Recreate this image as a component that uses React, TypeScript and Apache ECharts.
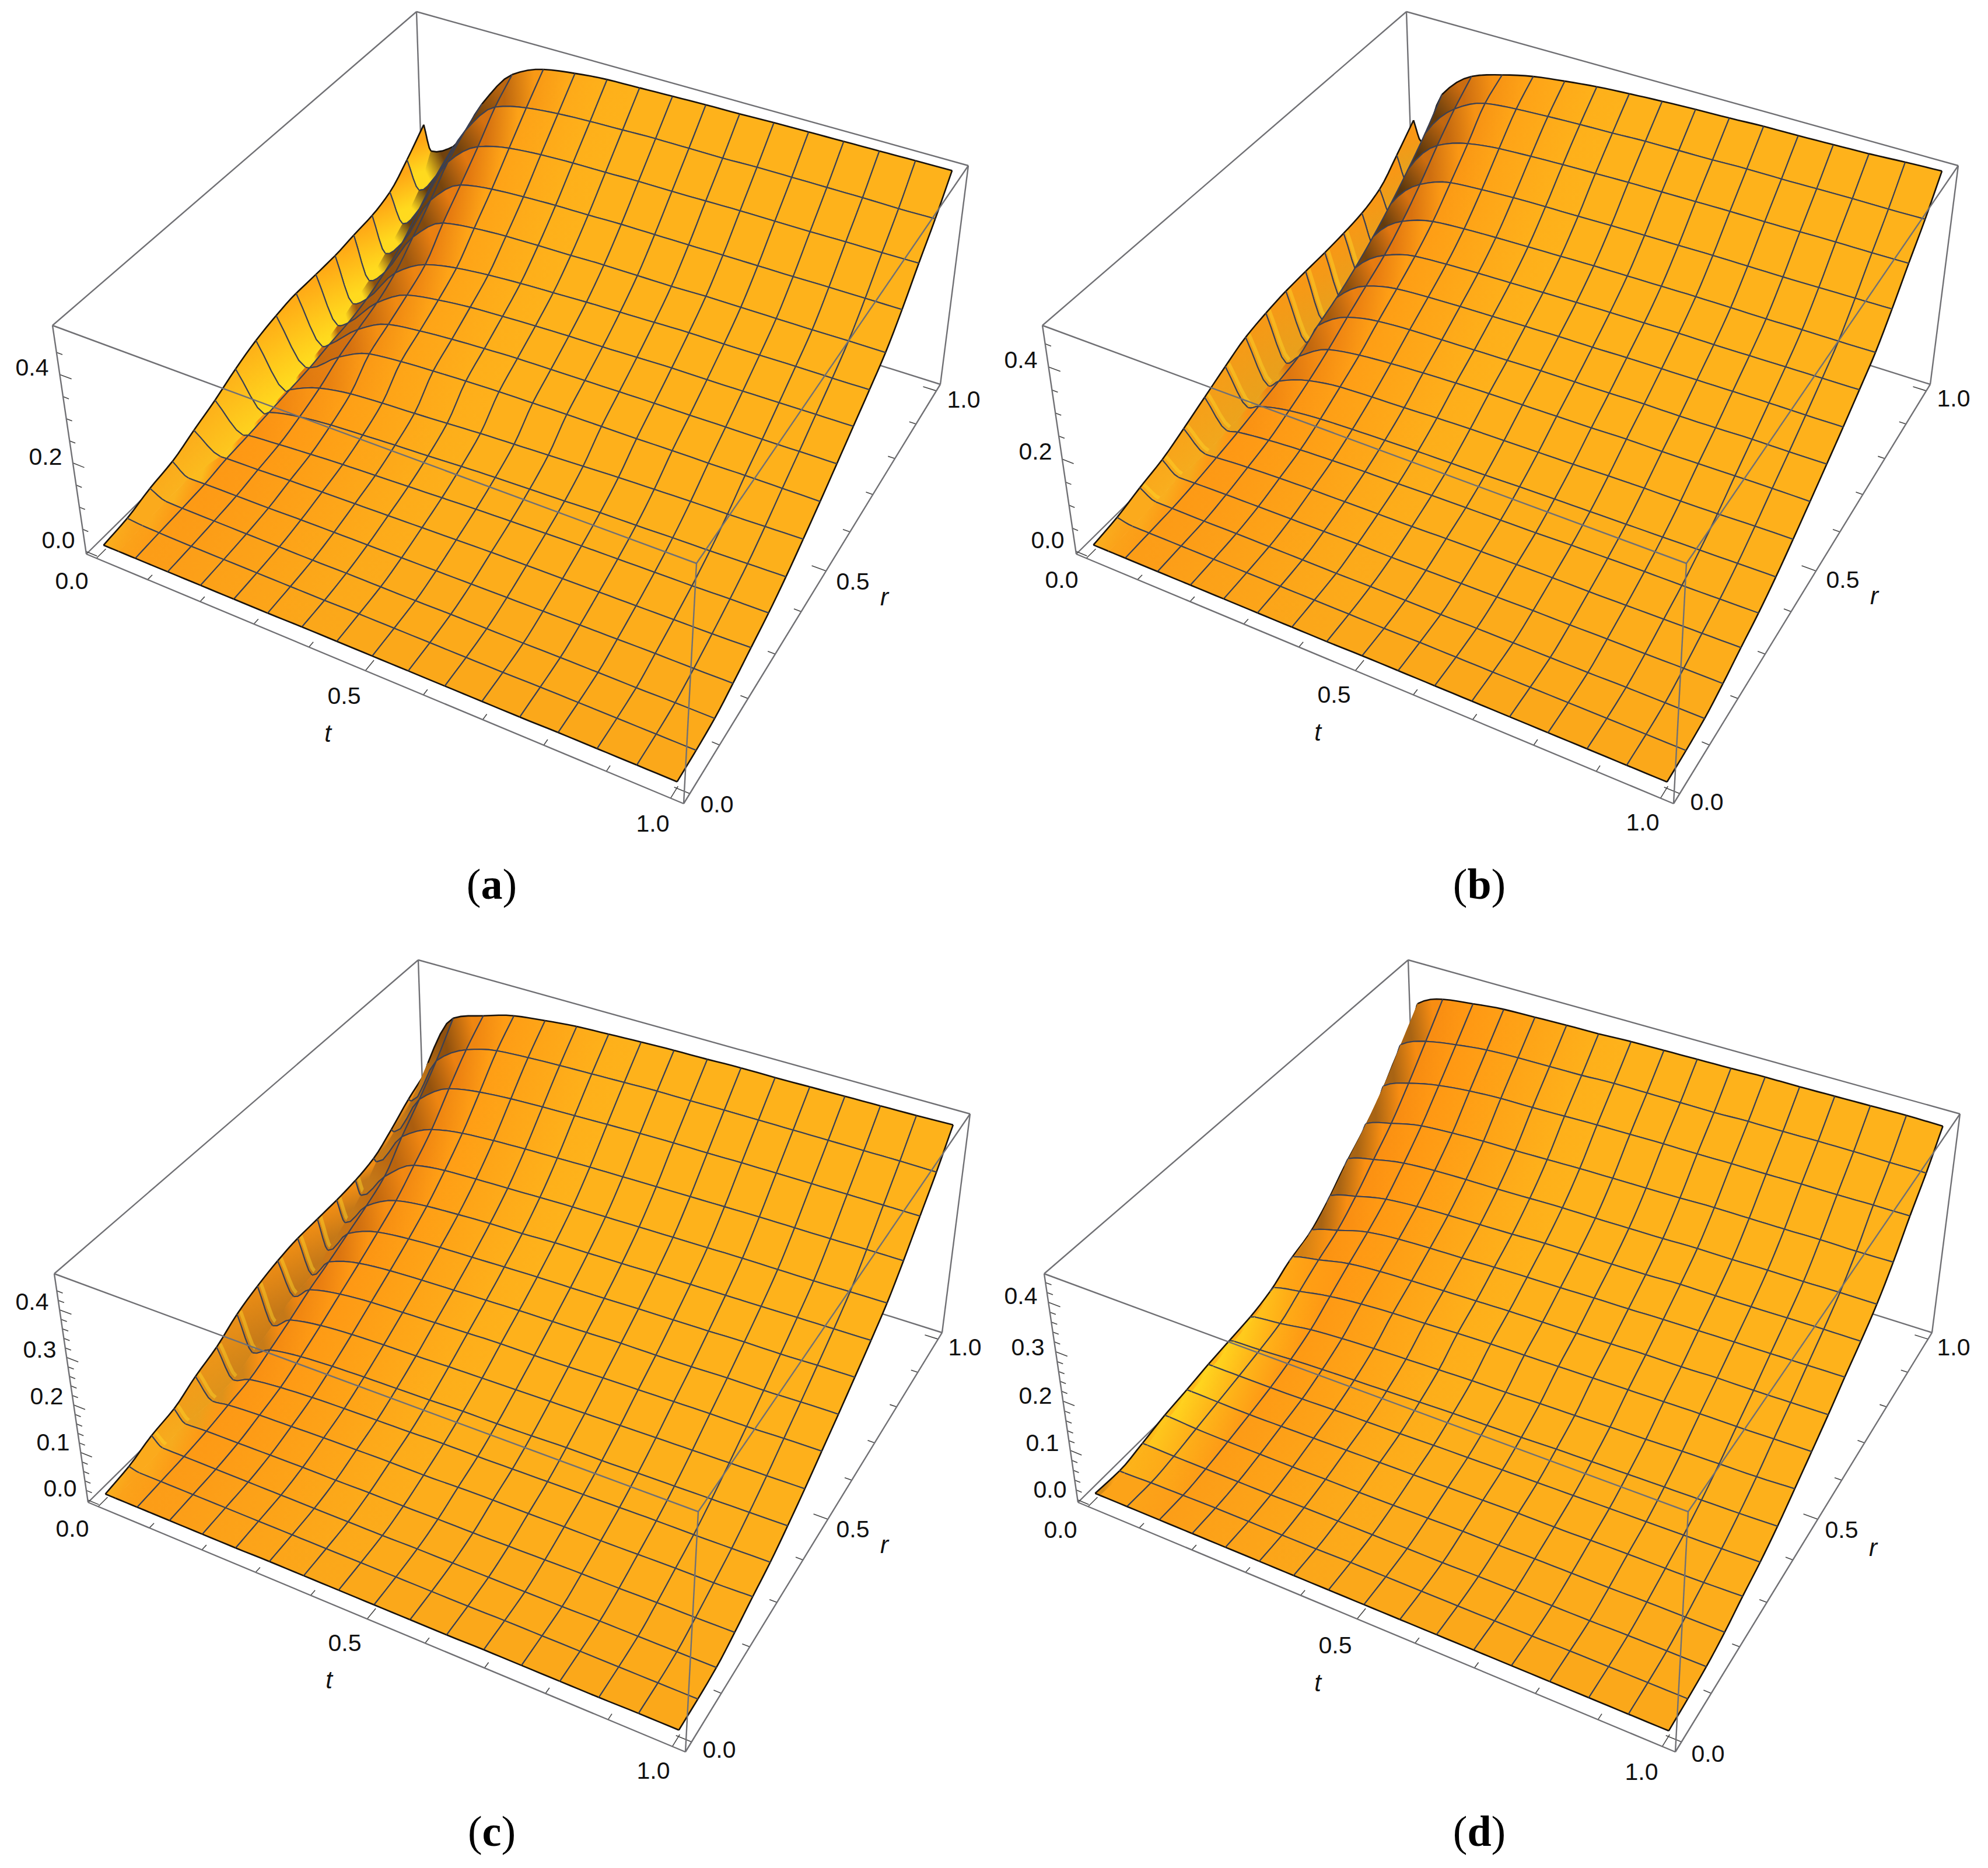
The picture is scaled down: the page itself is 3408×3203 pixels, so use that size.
import React, { useEffect, useRef } from "react";
import * as echarts from "echarts";

// heights in thousandths; rows: r = j/16, columns: t = 0, fold bottom, 1/16, 2/16 ... 1
const surfaceA = [
[6,6,6,6,6,6,6,7,7,7,7,7,7,7,8,8,8,8],
[13,10,9,8,8,8,8,8,9,9,9,9,9,10,10,10,10,10],
[28,12,11,11,11,11,11,12,12,12,13,13,13,14,14,14,15,15],
[38,13,14,15,16,18,19,20,21,22,23,24,25,26,27,28,28,29],
[59,20,21,23,26,28,30,32,34,36,38,39,40,41,42,43,44,46],
[79,20,24,30,35,39,42,45,48,51,53,55,57,58,59,60,62,63],
[103,20,28,44,52,56,60,63,67,70,72,74,77,78,80,81,83,85],
[122,25,32,62,75,80,83,87,91,94,97,100,103,105,107,108,110,112],
[134,34,36,87,120,128,132,135,137,138,139,139,139,140,140,141,141,141],
[141,34,44,105,142,152,158,162,165,166,167,168,169,169,170,170,171,172],
[141,35,50,122,165,178,186,190,193,195,196,198,200,200,201,202,203,204],
[142,39,62,148,192,208,216,221,224,227,229,231,233,233,234,235,235,236],
[148,49,82,190,247,258,263,265,266,268,268,268,270,270,270,270,271,271],
[153,70,110,235,295,308,313,316,317,319,319,319,320,320,320,321,321,321],
[168,100,150,285,345,364,371,374,375,377,377,378,379,379,379,380,380,381],
[206,140,190,320,400,420,428,432,434,436,436,436,438,438,438,438,437,438],
[252,192,220,346,439,473,485,492,494,496,498,499,501,502,503,504,505,506],
];
const surfaceB = [
[6,6,6,6,6,6,6,6,6,7,7,7,7,7,7,7,7,7],
[14,8,8,8,8,8,8,8,8,8,9,9,9,9,9,9,9,9],
[28,10,10,10,11,11,11,11,12,12,12,13,13,13,13,14,14,14],
[40,14,15,17,18,19,20,21,21,22,23,24,25,25,26,26,27,27],
[60,20,22,27,30,32,33,34,35,37,38,39,40,40,41,42,43,44],
[82,24,30,38,43,46,48,49,51,52,53,54,56,57,58,58,59,60],
[104,28,40,56,63,66,68,70,71,72,74,75,76,77,78,79,80,81],
[124,30,50,76,87,90,92,95,97,98,99,100,102,103,103,104,106,107],
[134,34,60,100,112,118,122,125,127,128,129,130,132,132,133,134,135,135],
[140,36,85,128,143,148,150,152,154,156,157,158,160,160,161,163,163,164],
[142,40,105,155,172,177,180,182,184,186,187,189,190,191,192,193,193,194],
[143,45,130,182,203,208,211,213,215,217,219,220,222,222,223,224,225,226],
[146,55,160,218,240,246,249,251,253,255,256,257,258,258,258,259,259,260],
[152,75,195,262,288,294,298,300,301,303,304,305,306,306,306,307,308,309],
[168,105,235,312,338,348,352,355,357,359,360,361,362,362,363,364,364,365],
[208,150,280,358,392,400,404,407,409,412,413,414,416,416,417,418,418,419],
[252,207,333,396,420,437,447,455,460,464,467,469,472,473,475,477,481,484],
];
const surfaceC = [
[5,5,5,5,5,5,6,6,6,6,6,6,7,7,7,7,8,8],
[13,8,8,8,8,8,8,8,8,8,8,8,9,9,9,9,9,9],
[29,11,11,11,11,11,11,11,11,12,12,12,12,12,13,13,13,13],
[38,14,16,17,18,19,19,20,20,21,21,22,23,24,24,25,25,26],
[60,19,24,28,30,32,33,34,34,36,37,37,38,38,39,40,40,42],
[77,17,32,40,44,46,47,48,50,50,51,52,53,54,55,55,56,57],
[103,29,50,60,64,66,67,68,70,70,71,73,73,74,75,76,77,78],
[120,43,70,82,87,89,90,92,93,94,95,96,97,98,99,100,101,102],
[132,64,92,106,112,114,116,118,120,120,121,123,124,125,126,126,128,129],
[139,67,110,130,137,140,142,144,146,147,148,150,150,151,153,153,155,156],
[140,77,130,156,164,168,170,172,174,175,176,178,179,180,182,182,184,185],
[141,96,150,184,194,198,201,202,205,206,207,209,210,211,212,213,214,215],
[145,115,175,222,232,235,237,239,241,242,243,244,245,246,246,246,247,248],
[155,149,225,262,275,280,283,285,287,288,289,290,291,292,292,292,293,293],
[181,178,270,315,328,334,337,339,341,343,344,344,345,345,345,345,345,345],
[212,210,320,365,383,388,391,393,395,397,397,398,398,398,398,398,398,397],
[236,260,380,405,425,434,441,444,447,449,450,452,452,453,454,455,456,458],
];
const surfaceD = [
[6,6,6,6,6,6,6,6,6,6,6,6,6,6,6,6,6,6],
[3,3,5,6,7,7,7,7,8,8,8,8,8,8,9,9,9,9],
[12,12,11,11,11,11,12,12,12,12,12,13,13,13,13,14,14,14],
[23,23,20,19,19,19,20,20,21,22,23,23,24,24,24,25,25,25],
[30,30,29,28,29,30,31,32,33,34,35,36,36,37,38,38,39,41],
[38,38,38,38,39,41,42,43,45,46,47,48,49,50,51,52,53,55],
[44,46,48,52,55,57,59,61,63,64,65,67,68,69,70,71,72,74],
[50,54,60,70,75,78,80,82,84,85,87,88,90,91,93,94,95,98],
[62,74,85,97,104,108,110,113,115,116,117,118,119,120,121,121,122,123],
[85,98,110,124,130,133,135,137,139,140,141,143,145,145,147,147,148,149],
[100,115,132,150,157,160,162,165,167,168,170,171,173,174,175,176,177,178],
[130,149,165,180,186,189,191,193,196,197,198,199,202,202,203,204,205,205],
[170,190,205,218,223,225,226,228,230,230,231,232,234,234,235,235,236,236],
[205,228,245,260,265,268,269,271,273,274,275,276,278,278,278,279,278,279],
[245,273,295,310,318,322,323,325,327,328,329,329,330,330,331,331,332,332],
[300,327,350,362,370,373,374,375,378,378,378,378,380,380,381,381,380,380],
[340,382,407,416,423,425,427,428,431,432,433,434,436,436,437,438,439,438],
];
// t position of the fold bottom for each r row
const foldA = [.03,.03,.03,.03,.05,.052,.052,.054,.054,.048,.04,.032,.028,.025,.025,.024,.014];
const foldB = [.03,.03,.03,.03,.04,.04,.04,.04,.035,.035,.03,.03,.03,.025,.025,.02,.015];
const foldC = [.02,.02,.02,.02,.03,.028,.025,.025,.028,.025,.018,.015,.01,.006,.006,.006,.006];
const foldD = [.01,.01,.01,.01,.01,.01,.01,.01,.01,.01,.01,.01,.01,.01,.01,.01,.01];
// strength of the pale patch close to t = 0, per r row
const glowNone = [0,0,0,0,0,0,0,0,0,0,0,0,0,0,0,0,0];
const glowD = [0,.4,.6,.9,1,1,.9,.8,.5,.1,0,0,0,0,0,0,0];

const captions = ["a", "b", "c", "d"];
const zRanges = [[-0.006, 0.511], [-0.006, 0.49], [-0.005, 0.476], [-0.005, 0.458]];
const zTicksWide = [0, .05, .1, .15, .2, .25, .3, .35, .4, .45];
const zTicksFine = [0, .02, .04, .06, .08, .1, .12, .14, .16, .18, .2, .22, .24, .26, .28, .3, .32, .34, .36, .38, .4, .42, .44];
const planeTicks = [0, .1, .2, .3, .4, .5, .6, .7, .8, .9, 1];

const PW = 1704, PH = 1570;
const offsets = [[0, 0], [1697, 0], [3, 1626], [1700, 1626]];
const floorQuad = [[148, 950], [1172, 1378], [1612, 659], [726, 380]];
const topQuad = [[90, 558], [1194, 966], [1660, 284], [714, 20]];

// tick label page positions [text, x, y]
const labelsA = [["0.4", 55, 630], ["0.2", 78, 783], ["0.0", 100, 926], ["0.0", 123, 996], ["0.5", 590, 1193], ["1.0", 1119, 1412], ["0.0", 1229, 1379], ["0.5", 1462, 997], ["1.0", 1652, 685]];
const labelsB = [["0.4", 1750, 617], ["0.2", 1775, 774], ["0.0", 1796, 926], ["0.0", 1820, 994], ["0.5", 2287, 1191], ["1.0", 2816, 1410], ["0.0", 2926, 1375], ["0.5", 3159, 994], ["1.0", 3349, 683]];
const labelsC = [["0.4", 55, 2232], ["0.3", 68, 2314], ["0.2", 80, 2394], ["0.1", 91, 2473], ["0.0", 103, 2552], ["0.0", 124, 2621], ["0.5", 591, 2817], ["1.0", 1120, 3036], ["0.0", 1233, 3000], ["0.5", 1462, 2622], ["1.0", 1654, 2310]];
const labelsD = [["0.4", 1750, 2222], ["0.3", 1762, 2310], ["0.2", 1775, 2393], ["0.1", 1787, 2474], ["0.0", 1800, 2554], ["0.0", 1818, 2623], ["0.5", 2289, 2821], ["1.0", 2814, 3038], ["0.0", 2928, 3007], ["0.5", 3157, 2623], ["1.0", 3349, 2310]];
const axisNames = [
  [["t", 562, 1257], ["r", 1516, 1023]],
  [["t", 2259, 1255], ["r", 3213, 1021]],
  [["t", 564, 2880], ["r", 1516, 2648]],
  [["t", 2259, 2885], ["r", 3211, 2653]],
];
const captionPos = [[843, 1516], [2536, 1516], [843, 3140], [2536, 3140]];
const flapTones = [[255, 218, 30], [232, 160, 28], [196, 120, 24], [255, 212, 30]];
const streakPanels = [1, 2];

const panels = [
  { s: surfaceA, fold: foldA, glow: glowNone, labels: labelsA, zT: zTicksWide, major: [0, .2, .4] },
  { s: surfaceB, fold: foldB, glow: glowNone, labels: labelsB, zT: zTicksWide, major: [0, .2, .4] },
  { s: surfaceC, fold: foldC, glow: glowNone, labels: labelsC, zT: zTicksFine, major: [0, .1, .2, .3, .4] },
  { s: surfaceD, fold: foldD, glow: glowD, labels: labelsD, zT: zTicksFine, major: [0, .1, .2, .3, .4] },
];

function homography(q: number[][]) {
  const [[x0, y0], [x1, y1], [x2, y2], [x3, y3]] = q;
  const dx1 = x1 - x2, dx2 = x3 - x2, dx3 = x0 - x1 + x2 - x3;
  const dy1 = y1 - y2, dy2 = y3 - y2, dy3 = y0 - y1 + y2 - y3;
  const den = dx1 * dy2 - dx2 * dy1;
  const g = (dx3 * dy2 - dx2 * dy3) / den, h = (dx1 * dy3 - dx3 * dy1) / den;
  const a = x1 - x0 + g * x1, b = x3 - x0 + h * x3, d = y1 - y0 + g * y1, e = y3 - y0 + h * y3;
  return (u: number, v: number) => {
    const w = g * u + h * v + 1;
    return [(a * u + b * v + x0) / w, (d * u + e * v + y0) / w];
  };
}
const floorMap = homography(floorQuad);
const topMap = homography(topQuad);

function projector(zr: number[]) {
  return (t: number, r: number, z: number) => {
    const u = (t + 0.02) / 1.04, v = (r + 0.02) / 1.04;
    const w = (z - zr[0]) / (zr[1] - zr[0]);
    const p = floorMap(u, v), q = topMap(u, v);
    return [p[0] + (q[0] - p[0]) * w, p[1] + (q[1] - p[1]) * w];
  };
}

function slopes(xs: number[], ys: number[]) {
  const n = xs.length, d: number[] = [], m: number[] = new Array(n).fill(0);
  for (let i = 0; i < n - 1; i++) d.push((ys[i + 1] - ys[i]) / Math.max(1e-6, xs[i + 1] - xs[i]));
  m[0] = d[0]; m[n - 1] = d[n - 2];
  for (let i = 1; i < n - 1; i++) m[i] = d[i - 1] * d[i] <= 0 ? 0 : (2 * d[i - 1] * d[i]) / (d[i - 1] + d[i]);
  return m;
}
function herm(x0: number, x1: number, y0: number, y1: number, m0: number, m1: number, u: number) {
  const h = x1 - x0, u2 = u * u, u3 = u2 * u;
  return (2 * u3 - 3 * u2 + 1) * y0 + (u3 - 2 * u2 + u) * h * m0 + (-2 * u3 + 3 * u2) * y1 + (u3 - u2) * h * m1;
}
const mix = (a: number[], b: number[], f: number) => a.map((x, i) => x + (b[i] - x) * Math.min(1, Math.max(0, f)));
const css = (c: number[]) => `rgb(${Math.round(c[0])},${Math.round(c[1])},${Math.round(c[2])})`;

const SUB = 4;
function buildPanel(idx: number) {
  const P = panels[idx];
  const project = projector(zRanges[idx]);
  const nC = 18, nJ = 17;
  const tAt = (c: number, j: number) => (c === 0 ? 0 : c === 1 ? P.fold[j] : (c - 1) / 16);
  const zAt = (c: number, j: number) => P.s[j][c] / 1000;
  const rowM: number[][] = [], colM: number[][] = [];
  const rs = Array.from({ length: nJ }, (_, j) => j / 16);
  for (let j = 0; j < nJ; j++) {
    const xs = Array.from({ length: nC }, (_, c) => tAt(c, j));
    const ys = Array.from({ length: nC }, (_, c) => zAt(c, j));
    rowM.push(slopes(xs, ys));
  }
  for (let c = 0; c < nC; c++) colM.push(slopes(rs, rs.map((_, j) => zAt(c, j))));

  const rowEdge = (c: number, j: number, dr = 0) => {
    const out: number[][] = [];
    const t0 = tAt(c, j), t1 = tAt(c + 1, j);
    for (let k = 0; k <= SUB; k++) {
      const u = k / SUB;
      out.push(project(t0 + (t1 - t0) * u, j / 16 + dr, herm(t0, t1, zAt(c, j), zAt(c + 1, j), rowM[j][c], rowM[j][c + 1], u)));
    }
    return out;
  };
  const colEdge = (c: number, j: number) => {
    const out: number[][] = [];
    const t0 = tAt(c, j), t1 = tAt(c, j + 1);
    for (let k = 0; k <= SUB; k++) {
      const u = k / SUB;
      out.push(project(t0 + (t1 - t0) * u, (j + u) / 16, herm(j / 16, (j + 1) / 16, zAt(c, j), zAt(c, j + 1), colM[c][j], colM[c][j + 1], u)));
    }
    return out;
  };
  const shade = (c: number, j: number) => {
    const t = tAt(c, j), r = j / 16;
    const a = Math.max(0, c - 1), b = Math.min(nC - 1, c + 1);
    const s = (zAt(b, j) - zAt(a, j)) / Math.max(1e-3, tAt(b, j) - tAt(a, j));
    const k = Math.min(1, Math.max(0, (t - 0.08) / 0.32));
    let base = mix([255, 148, 18], [254, 178, 27], k);
    base = mix(base, [250, 162, 26], Math.pow(1 - r, 3) * 0.7);
    let tone = mix([250, 175, 30], flapTones[idx], (r - 0.15) / 0.25);
    if (idx === 3) tone = P.glow[j] > 0 ? mix(base, flapTones[3], P.glow[j]) : [168, 100, 20];
    if (c === 0) return mix(base, tone, 0.25 + Math.max(0, 0.6 - r));
    if (c === 1) return mix(base, tone, Math.min(1, r * 8));
    if (c === 2 && P.glow[j] > 0) return mix(base, flapTones[idx], P.glow[j] * 0.5);
    if (s < 0.2) return base;
    if (s < 0.6) return mix(base, [228, 120, 16], (s - 0.2) / 0.4);
    if (s < 1.4) return mix([228, 120, 16], [125, 72, 14], (s - 0.6) / 0.8);
    return mix([125, 72, 14], [60, 40, 12], s - 1.4);
  };
  return { rowEdge, colEdge, shade, project, nC, nJ };
}

const MESH = "rgb(58,64,84)";
const EDGE = "rgb(24,18,12)";
const BOX = "rgb(112,112,116)";

function surfaceSeries(idx: number) {
  const b = buildPanel(idx);
  const data: number[][] = [];
  for (let c = 0; c < b.nC - 1; c++) for (let j = b.nJ - 2; j >= 0; j--) data.push([c, j]);
  return {
    type: "custom", xAxisIndex: idx, yAxisIndex: idx, clip: false, silent: true, progressive: 0, z: 5,
    data, encode: { x: 0, y: 1 },
    renderItem: (_: any, api: any) => {
      const c = api.value(0), j = api.value(1);
      const toS = (pts: number[][]) => pts.map((p) => api.coord(p));
      const lowEdge = toS(b.rowEdge(c, j)), highEdge = toS(b.rowEdge(c, j + 1));
      const leftEdge = toS(b.colEdge(c, j)), rightEdge = toS(b.colEdge(c + 1, j));
      const poly = [...lowEdge, ...rightEdge.slice(1), ...[...highEdge].reverse().slice(1), ...[...leftEdge].reverse().slice(1, -1)];
      const m0 = [(leftEdge[0][0] + leftEdge[SUB][0]) / 2, (leftEdge[0][1] + leftEdge[SUB][1]) / 2];
      const m1 = [(rightEdge[0][0] + rightEdge[SUB][0]) / 2, (rightEdge[0][1] + rightEdge[SUB][1]) / 2 + 0.01];
      const c0 = mix(b.shade(c, j), b.shade(c, j + 1), 0.5);
      const c1 = mix(b.shade(c + 1, j), b.shade(c + 1, j + 1), 0.5);
      const grad = new echarts.graphic.LinearGradient(m0[0], m0[1], m1[0], m1[1], [{ offset: 0, color: css(c0) }, { offset: 1, color: css(c1) }], true);
      const children: any[] = [{ type: "polygon", shape: { points: poly }, style: { fill: grad, stroke: grad, lineWidth: 1 } }];
      if (c === 0 && j >= 2 && j <= 12 && streakPanels.includes(idx)) {
        children.push({ type: "polyline", shape: { points: toS(b.rowEdge(c, j, 0.01)) }, style: { fill: "none", stroke: "rgba(255,214,40,0.45)", lineWidth: 6 } });
      }
      const line = (pts: number[][], outer: boolean) => children.push({ type: "polyline", shape: { points: pts }, style: { fill: "none", stroke: outer ? EDGE : MESH, lineWidth: outer ? 2.6 : 2.1 } });
      if (c !== 1) line(leftEdge, c === 0);
      if (c + 1 !== 1) line(rightEdge, c + 1 === b.nC - 1);
      line(lowEdge, j === 0);
      line(highEdge, j + 1 === b.nJ - 1);
      return { type: "group", children };
    },
  };
}

// box edges as corner index pairs; corners: 0..3 floor C,E,G,H and 4..7 top B,D,F,A
const backEdges = [[3, 0], [3, 2], [3, 7], [7, 4], [7, 6], [6, 2]];
const frontEdges = [[4, 0], [4, 5], [5, 6], [5, 1], [0, 1], [1, 2]];
const corners = [...floorQuad, ...topQuad];

function boxSeries(idx: number, edges: number[][], z: number) {
  return {
    type: "custom", xAxisIndex: idx, yAxisIndex: idx, clip: false, silent: true, z,
    data: edges, encode: { x: 0, y: 1 },
    renderItem: (_: any, api: any) => {
      const a = api.coord(corners[api.value(0)]), e = api.coord(corners[api.value(1)]);
      return { type: "line", shape: { x1: a[0], y1: a[1], x2: e[0], y2: e[1] }, style: { stroke: BOX, lineWidth: 2.4 } };
    },
  };
}

function tickSeries(idx: number) {
  const P = panels[idx];
  const project = projector(zRanges[idx]);
  const segs: number[][][] = [];
  const near = (v: number, list: number[]) => list.some((m) => Math.abs(m - v) < 1e-6);
  planeTicks.forEach((v) => {
    const len = near(v, [0, .5, 1]) ? 0.024 : 0.012;
    segs.push([project(v, -0.02, zRanges[idx][0]), project(v, -0.02 + len, zRanges[idx][0])]);
    segs.push([project(1.02, v, zRanges[idx][0]), project(1.02 - len, v, zRanges[idx][0])]);
  });
  P.zT.forEach((v) => {
    const len = near(v, P.major) ? 0.022 : 0.011;
    segs.push([project(-0.02, -0.02, v), project(-0.02 + len, -0.02, v)]);
  });
  return {
    type: "custom", xAxisIndex: idx, yAxisIndex: idx, clip: false, silent: true, z: 2,
    data: segs.map((_, i) => [i, 0]), encode: { x: 0, y: 1 },
    renderItem: (_: any, api: any) => {
      const s = segs[api.value(0)];
      const a = api.coord(s[0]), e = api.coord(s[1]);
      return { type: "line", shape: { x1: a[0], y1: a[1], x2: e[0], y2: e[1] }, style: { stroke: "rgb(70,70,70)", lineWidth: 1.6 } };
    },
  };
}

function labelSeries(idx: number) {
  const [ox, oy] = offsets[idx];
  const plain = panels[idx].labels as any[];
  const names = axisNames[idx] as any[];
  const all = [...plain.map((l) => [...l, false]), ...names.map((l) => [...l, true])];
  return {
    type: "custom", xAxisIndex: idx, yAxisIndex: idx, clip: false, silent: true, z: 8,
    data: all.map((_, i) => [i, 0]), encode: { x: 0, y: 1 },
    renderItem: (_: any, api: any) => {
      const l = all[api.value(0)];
      const p = api.coord([l[1] - ox, l[2] - oy]);
      return {
        type: "text", x: p[0], y: p[1],
        style: { text: l[0], fontFamily: "Liberation Sans", fontSize: l[3] ? 42 : 41, fontStyle: l[3] ? "italic" : "normal", fill: "#111", align: "center", verticalAlign: "middle" },
      };
    },
  };
}

export default function App() {
  const ref = useRef<HTMLDivElement>(null);
  useEffect(() => {
    document.body.style.margin = "0";
    const chart = echarts.init(ref.current!, undefined, { renderer: "svg" });
    const idxs = [0, 1, 2, 3];
    const hiddenAxis = (i: number, max: number, inverse: boolean) => ({ type: "value", gridIndex: i, min: 0, max, inverse, show: false });
    const series: any[] = [];
    idxs.forEach((i) => {
      series.push(boxSeries(i, backEdges, 1), tickSeries(i), surfaceSeries(i), boxSeries(i, frontEdges, 7), labelSeries(i));
    });
    chart.setOption({
      animation: false,
      backgroundColor: "#fff",
      grid: offsets.map(([x, y]) => ({ left: x, top: y, width: PW, height: PH, show: false })),
      xAxis: idxs.map((i) => hiddenAxis(i, PW, false)),
      yAxis: idxs.map((i) => hiddenAxis(i, PH, true)),
      series,
      graphic: captions.map((c, i) => ({
        type: "text", x: captionPos[i][0], y: captionPos[i][1], z: 20,
        style: {
          text: `{n|(}{b|${c}}{n|)}`, align: "center", verticalAlign: "middle", fill: "#000",
          rich: {
            n: { fontFamily: "Liberation Serif", fontSize: 74, fontWeight: "normal", fill: "#000" },
            b: { fontFamily: "Liberation Serif", fontSize: 74, fontWeight: "bold", fill: "#000" },
          },
        },
      })),
    });
    return () => chart.dispose();
  }, []);
  return <div ref={ref} style={{ width: 3408, height: 3203, background: "#fff" }} />;
}
